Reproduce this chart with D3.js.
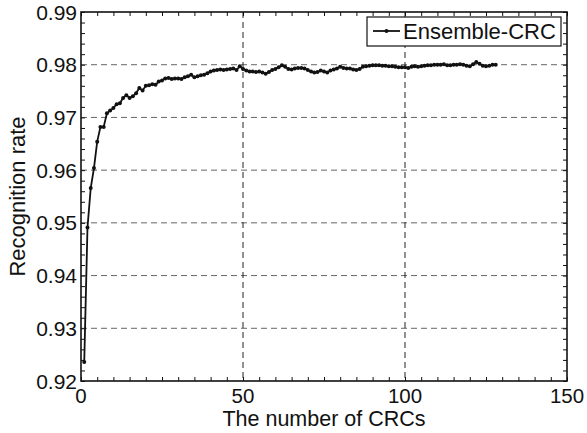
<!DOCTYPE html>
<html>
<head>
<meta charset="utf-8">
<script src="https://cdn.jsdelivr.net/npm/d3@7"></script>
<style>
  body { margin: 0; background: #fff; }
  text { font-family: "Liberation Sans", Arial, sans-serif; fill: #111; }
</style>
</head>
<body>
<div id="chart"></div>
<script>
// recognition rate for each ensemble size (1..128)
var rates = [
  0.9236, 0.9491, 0.9566, 0.9604, 0.9654, 0.9682, 0.9682, 0.9708, 0.9713, 0.9718,
  0.9725, 0.9727, 0.9737, 0.9742, 0.9737, 0.9740, 0.9746, 0.9756, 0.9751, 0.9760,
  0.9761, 0.9763, 0.9762, 0.9768, 0.9770, 0.9774, 0.9775, 0.9773, 0.9774, 0.9774,
  0.9773, 0.9776, 0.9778, 0.9781, 0.9776, 0.9778, 0.9780, 0.9781, 0.9784, 0.9787,
  0.9789, 0.9790, 0.9791, 0.9790, 0.9791, 0.9792, 0.9793, 0.9790, 0.9797, 0.9792,
  0.9789, 0.9787, 0.9787, 0.9786, 0.9787, 0.9785, 0.9783, 0.9786, 0.9790, 0.9792,
  0.9795, 0.9799, 0.9796, 0.9792, 0.9791, 0.9793, 0.9794, 0.9794, 0.9793, 0.9790,
  0.9787, 0.9785, 0.9786, 0.9789, 0.9787, 0.9785, 0.9789, 0.9791, 0.9793, 0.9796,
  0.9794, 0.9793, 0.9793, 0.9791, 0.9790, 0.9792, 0.9796, 0.9797, 0.9798, 0.9799,
  0.9799, 0.9799, 0.9798, 0.9798, 0.9797, 0.9797, 0.9796, 0.9795, 0.9795, 0.9795,
  0.9794, 0.9796, 0.9797, 0.9796, 0.9797, 0.9798, 0.9799, 0.9799, 0.9800, 0.9800,
  0.9800, 0.9801, 0.9799, 0.9799, 0.9800, 0.9800, 0.9801, 0.9800, 0.9798, 0.9797,
  0.9801, 0.9805, 0.9802, 0.9798, 0.9797, 0.9798, 0.9800, 0.9800
];
var numCRCs = rates.map(function(d, i) { return i + 1; });

var xTicks = [0, 50, 100, 150];
var yTicks = [0.92, 0.93, 0.94, 0.95, 0.96, 0.97, 0.98, 0.99];
var seriesName = "Ensemble-CRC";
var xTitle = "The number of CRCs";
var yTitle = "Recognition rate";

var W = 587, H = 433;
var margin = { left: 81, top: 12, right: 20, bottom: 52 };
var width = W - margin.left - margin.right,
  height = H - margin.top - margin.bottom;

var x = d3.scaleLinear().domain([0, 150]).range([0, width]);
var y = d3.scaleLinear().domain([0.92, 0.99]).range([height, 0]);

var svg = d3.select("#chart").append("svg")
  .attr("width", W)
  .attr("height", H);

var g = svg.append("g")
  .attr("transform", "translate(" + margin.left + "," + margin.top + ")");

// dashed grid
g.selectAll(".hgrid").data(yTicks.slice(1, -1)).enter()
  .append("line")
  .attr("x1", 0).attr("x2", width)
  .attr("y1", function(d) { return y(d); })
  .attr("y2", function(d) { return y(d); })
  .attr("stroke", "#666")
  .attr("stroke-width", 1)
  .attr("stroke-dasharray", "6,4");

g.selectAll(".vgrid").data(xTicks.slice(1, -1)).enter()
  .append("line")
  .attr("y1", 0).attr("y2", height)
  .attr("x1", function(d) { return x(d); })
  .attr("x2", function(d) { return x(d); })
  .attr("stroke", "#222")
  .attr("stroke-width", 1)
  .attr("stroke-dasharray", "6,4");

// inward ticks on all four sides
var xMinor = d3.range(0, 151, 5);
var yMinor = d3.range(0, 36).map(function(i) { return 0.92 + i * 0.002; });

g.append("g")
  .attr("transform", "translate(0," + height + ")")
  .call(d3.axisBottom(x).tickValues(xMinor).tickSize(-4).tickFormat(""));
g.append("g")
  .call(d3.axisTop(x).tickValues(xMinor).tickSize(-4).tickFormat(""));
g.append("g")
  .call(d3.axisLeft(y).tickValues(yMinor).tickSize(-4).tickFormat(""));
g.append("g")
  .attr("transform", "translate(" + width + ",0)")
  .call(d3.axisRight(y).tickValues(yMinor).tickSize(-4).tickFormat(""));

g.selectAll(".domain").remove();
g.selectAll(".tick line").attr("stroke", "#111").attr("stroke-width", 1);

// frame
g.append("rect")
  .attr("width", width)
  .attr("height", height)
  .attr("fill", "none")
  .attr("stroke", "#111")
  .attr("stroke-width", 1.6);

// tick labels
g.selectAll(".xlab").data(xTicks).enter()
  .append("text")
  .attr("x", function(d) { return x(d); })
  .attr("y", height + 22)
  .attr("text-anchor", "middle")
  .attr("font-size", "20.5px")
  .text(function(d) { return d; });

g.selectAll(".ylab").data(yTicks).enter()
  .append("text")
  .attr("x", -4)
  .attr("y", function(d) { return y(d) + 7.5; })
  .attr("text-anchor", "end")
  .attr("font-size", "21px")
  .text(function(d) { return d3.format(".2f")(d); });

// axis titles
g.append("text")
  .attr("x", width / 2)
  .attr("y", height + 45)
  .attr("text-anchor", "middle")
  .attr("font-size", "21.5px")
  .text(xTitle);

g.append("text")
  .attr("transform", "translate(" + (25 - margin.left) + "," + (height / 2) + ") rotate(-90)")
  .attr("text-anchor", "middle")
  .attr("font-size", "22px")
  .text(yTitle);

// the curve
var line = d3.line()
  .x(function(d, i) { return x(numCRCs[i]); })
  .y(function(d) { return y(d); });

g.append("path")
  .datum(rates)
  .attr("d", line)
  .attr("fill", "none")
  .attr("stroke", "#111")
  .attr("stroke-width", 1.8);

g.selectAll(".dot").data(rates).enter()
  .append("circle")
  .attr("cx", function(d, i) { return x(numCRCs[i]); })
  .attr("cy", function(d) { return y(d); })
  .attr("r", 2)
  .attr("fill", "#111");

// legend
var lg = g.append("g")
  .attr("transform", "translate(" + (367 - margin.left) + "," + (17 - margin.top) + ")");

lg.append("rect")
  .attr("width", 194)
  .attr("height", 29)
  .attr("fill", "#fff")
  .attr("stroke", "#111")
  .attr("stroke-width", 1.2);

lg.append("line")
  .attr("x1", 6).attr("x2", 33)
  .attr("y1", 14).attr("y2", 14)
  .attr("stroke", "#111")
  .attr("stroke-width", 1.8);

lg.append("circle")
  .attr("cx", 19.5).attr("cy", 14)
  .attr("r", 2)
  .attr("fill", "#111");

lg.append("text")
  .attr("x", 36)
  .attr("y", 22)
  .attr("font-size", "22px")
  .text(seriesName);
</script>
</body>
</html>
